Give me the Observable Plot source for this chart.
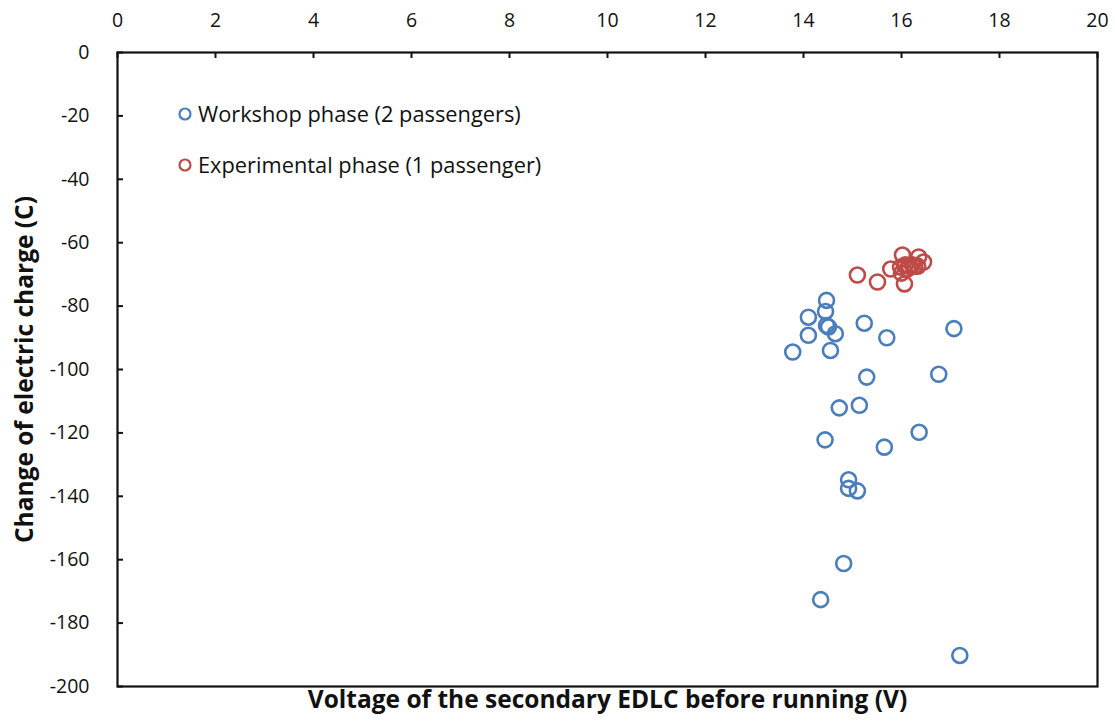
<!DOCTYPE html>
<html>
<head>
<meta charset="utf-8">
<script src="https://cdn.jsdelivr.net/npm/d3@7"></script>
<script src="https://cdn.jsdelivr.net/npm/@observablehq/plot@0.6"></script>
<style>
  html, body { margin: 0; padding: 0; background: #fff; }
  #chart { position: relative; width: 1115px; height: 724px; font-family: "Open Sans", sans-serif; }
  #legend { position: absolute; left: 177px; top: 88px; font-size: 21.8px; color: #111; }
  #legend .row { display: flex; align-items: center; height: 51px; }
  #legend svg { margin-right: 5px; }
</style>
</head>
<body>
<div id="chart">
  <div id="legend"></div>
</div>
<script>
// Workshop phase (2 passengers): voltage of the secondary EDLC (V) and charge change (C)
const workshopVoltage = [13.78, 14.10, 14.10, 14.47, 14.45, 14.47, 14.51, 14.65, 14.55, 15.24, 15.70, 17.07, 15.29,
  16.76, 14.73, 15.14, 14.44, 16.36, 15.65, 14.92, 14.92, 15.10, 14.82, 14.35, 17.19];
const workshopCharge = [-94.5, -83.5, -89.2, -78.2, -81.7, -86.1, -86.6, -88.7, -94.0, -85.4, -90.0, -87.1, -102.4,
  -101.5, -112.1, -111.3, -122.2, -119.8, -124.5, -134.8, -137.5, -138.3, -161.2, -172.6, -190.2];

// Experimental phase (1 passenger)
const experimentalVoltage = [15.10, 15.51, 15.78, 16.02, 16.35, 16.45, 16.33, 16.06, 16.00, 15.98, 16.08, 16.16, 16.22, 16.27, 16.12];
const experimentalCharge = [-70.2, -72.4, -68.3, -63.9, -64.5, -66.1, -67.4, -73.0, -69.6, -67.7, -67.0, -67.4, -67.0, -67.4, -68.3];

const xTicks = [0, 2, 4, 6, 8, 10, 12, 14, 16, 18, 20];
const yTicks = [0, -20, -40, -60, -80, -100, -120, -140, -160, -180, -200];

const seriesNames = ["Workshop phase (2 passengers)", "Experimental phase (1 passenger)"];
const seriesColors = ["#4A7EBB", "#BE4B48"];

const workshop = workshopVoltage.map((v, i) => ({voltage: v, charge: workshopCharge[i]}));
const experimental = experimentalVoltage.map((v, i) => ({voltage: v, charge: experimentalCharge[i]}));

const W = 1115, H = 724;
const margin = {left: 117, right: 18, top: 52, bottom: 38};
const frameW = W - margin.left - margin.right;
const frameH = H - margin.top - margin.bottom;
const tickLen = 6;
const tickFont = 19.5;
const plain = (d) => String(d); // hyphen-minus, as in the printed labels

const chart = Plot.plot({
  width: W,
  height: H,
  marginLeft: margin.left,
  marginRight: margin.right,
  marginTop: margin.top,
  marginBottom: margin.bottom,
  style: {fontFamily: "Open Sans, sans-serif", background: "#fff", overflow: "visible"},
  x: {domain: [0, 20], axis: null},
  y: {domain: [-200, 0], axis: null},
  marks: [
    // tick labels: x along the top edge, y along the left edge
    Plot.text(xTicks, {x: (d) => d, text: plain, frameAnchor: "top", lineAnchor: "middle", dy: -32,
      fontSize: tickFont, fill: "#111"}),
    Plot.text(yTicks, {y: (d) => d, text: plain, frameAnchor: "left", textAnchor: "end", dx: -28,
      fontSize: tickFont, fill: "#111"}),
    // inward tick marks
    Plot.tickX(xTicks, {x: (d) => d, insetBottom: frameH - tickLen, stroke: "#111", strokeWidth: 2}),
    Plot.tickY(yTicks, {y: (d) => d, insetRight: frameW - tickLen, stroke: "#111", strokeWidth: 2}),
    Plot.frame({stroke: "#111", strokeWidth: 2.2}),
    Plot.dot(workshop, {x: "voltage", y: "charge", r: 7.5, stroke: seriesColors[0], strokeWidth: 2.6, fill: "none"}),
    Plot.dot(experimental, {x: "voltage", y: "charge", r: 7.5, stroke: seriesColors[1], strokeWidth: 2.6, fill: "none"}),
    // axis titles
    Plot.text(["Voltage of the secondary EDLC before running (V)"], {
      frameAnchor: "bottom", dy: 21, fontSize: 24.5, fontWeight: "bold", fill: "#111", textAnchor: "middle"
    }),
    Plot.text(["Change of electric charge (C)"], {
      frameAnchor: "left", dx: -92, rotate: -90, fontSize: 24.5, fontWeight: "bold", fill: "#111", textAnchor: "middle"
    })
  ]
});

const container = document.getElementById("chart");
container.insertBefore(chart, container.firstChild);

// legend rows
const legend = document.getElementById("legend");
seriesNames.forEach((name, i) => {
  const row = document.createElement("div");
  row.className = "row";
  row.innerHTML = `<svg width="16" height="16"><circle cx="8" cy="8" r="5.5" fill="none" stroke="${seriesColors[i]}" stroke-width="2.2"/></svg><span>${name}</span>`;
  legend.appendChild(row);
});
</script>
</body>
</html>
